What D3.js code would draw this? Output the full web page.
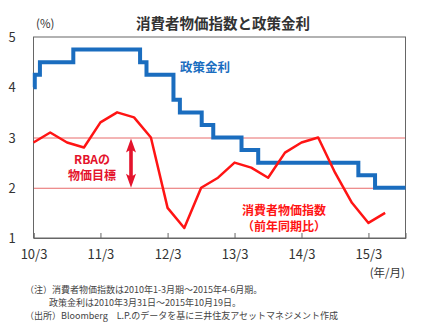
<!DOCTYPE html>
<html><head><meta charset="utf-8">
<script src="https://cdn.jsdelivr.net/npm/d3@7"></script>
<style>
html,body{margin:0;padding:0;background:#fff;}
svg{display:block;font-family:"Noto Sans CJK JP","Noto Sans",sans-serif;}
</style></head><body>
<svg id="c" width="425" height="329"></svg>
<script>
// ---- data ----
const cpiDates = ["2010-03-31","2010-06-30","2010-09-30","2010-12-31",
  "2011-03-31","2011-06-30","2011-09-30","2011-12-31",
  "2012-03-31","2012-06-30","2012-09-30","2012-12-31",
  "2013-03-31","2013-06-30","2013-09-30","2013-12-31",
  "2014-03-31","2014-06-30","2014-09-30","2014-12-31",
  "2015-03-31","2015-06-30"];
const cpiValues = [2.9,3.1,2.9,2.8, 3.3,3.5,3.4,3.0, 1.6,1.2,2.0,2.2, 2.5,2.4,2.2,2.7, 2.9,3.0,2.3,1.7, 1.3,1.5];
const rateDates = ["2010-03-31","2010-04-07","2010-05-05","2010-11-03","2011-11-02","2011-12-07",
  "2012-05-02","2012-06-06","2012-10-03","2012-12-05","2013-05-08","2013-08-07",
  "2015-02-04","2015-05-06","2015-10-19"];
const rateValues = [4.0,4.25,4.5,4.75,4.5,4.25,3.75,3.5,3.25,3.0,2.75,2.5,2.25,2.0,2.0];
const xTickDates = ["2010-03-31","2011-03-31","2012-03-31","2013-03-31","2014-03-31","2015-03-31"];
const xTickLabels = ["10/3","11/3","12/3","13/3","14/3","15/3"];
const yTicks = [1,2,3,4,5];
const targetBand = [2,3];

const parse = d3.utcParse("%Y-%m-%d");
const svg = d3.select("#c");
const x = d3.scaleUtc().domain([parse("2010-03-31"), parse("2015-10-19")]).range([33.5, 405.5]);
const y = d3.scaleLinear().domain([1,5]).range([238, 37]);

// title
svg.append("text").attr("x",223).attr("y",29).attr("text-anchor","middle")
  .attr("font-size",14.5).attr("font-weight","bold").attr("fill","#333").text("消費者物価指数と政策金利");
svg.append("text").attr("x",36).attr("y",28).attr("font-size",11.5).attr("fill","#333").text("(%)");

// target gridlines
svg.selectAll("line.tg").data(targetBand).join("line").attr("class","tg")
  .attr("x1",x.range()[0]).attr("x2",x.range()[1]).attr("y1",d=>y(d)+0.5).attr("y2",d=>y(d)+0.5)
  .attr("stroke","#e86a6a").attr("stroke-width",1);

// frame
svg.append("rect").attr("x",x.range()[0]).attr("y",y(5)).attr("width",x.range()[1]-x.range()[0])
  .attr("height",y(1)-y(5)).attr("fill","none").attr("stroke","#666").attr("stroke-width",1);

// y axis labels
svg.selectAll("text.yl").data(yTicks).join("text").attr("class","yl")
  .attr("x",12).attr("y",d=>y(d)+5).attr("text-anchor","middle").attr("font-size",13)
  .attr("fill","#333").text(d=>d);

// x axis
const xAxis = d3.axisBottom(x).tickValues(xTickDates.map(parse)).tickSize(-5).tickPadding(12)
  .tickFormat((d,i)=>xTickLabels[i]);
const gx = svg.append("g").attr("transform",`translate(0,${y(1)})`).call(xAxis);
gx.select(".domain").attr("stroke","#666");
gx.selectAll(".tick line").attr("stroke","#666");
gx.selectAll(".tick text").attr("font-size",13).attr("fill","#333").attr("font-family","'Noto Sans CJK JP',sans-serif");
svg.append("text").attr("x",405).attr("y",277).attr("text-anchor","end").attr("font-size",11.5)
  .attr("fill","#333").text("(年/月)");

// policy rate
const rate = rateDates.map((d,i)=>({d:parse(d),v:rateValues[i]}));
svg.append("path").datum(rate).attr("fill","none").attr("stroke","#1a6dbf").attr("stroke-width",4)
  .attr("d",d3.line().x(d=>x(d.d)).y(d=>y(d.v)).curve(d3.curveStepAfter));

// CPI
const cpi = cpiDates.map((d,i)=>({d:parse(d),v:cpiValues[i]}));
svg.append("path").datum(cpi).attr("fill","none").attr("stroke","#ff1414").attr("stroke-width",2.5)
  .attr("stroke-linejoin","round").attr("d",d3.line().x(d=>x(d.d)).y(d=>y(d.v)));

// double arrow
const ax = 131, a1 = y(3)+1, a2 = y(2);
svg.append("path").attr("fill","#e4132c")
  .attr("d",`M${ax},${a1} L${ax-5},${a1+14} L${ax-1.8},${a1+12} L${ax-1.8},${a2-12} L${ax-5},${a2-14} L${ax},${a2} L${ax+5},${a2-14} L${ax+1.8},${a2-12} L${ax+1.8},${a1+12} L${ax+5},${a1+14} Z`);

// labels
const lab = (tx,ty,t,col,anchor)=>svg.append("text").attr("x",tx).attr("y",ty)
  .attr("text-anchor",anchor).attr("font-size",12).attr("font-weight","bold").attr("fill",col).text(t);
lab(92,164,"RBAの","#e4132c","middle");
lab(92,179.5,"物価目標","#e4132c","middle");
svg.append("text").attr("x",180).attr("y",72).attr("font-size",12.5).attr("font-weight","bold")
  .attr("fill","#1a6dbf").text("政策金利");
lab(284,215,"消費者物価指数","#ff1414","middle");
lab(284,230.5,"（前年同期比）","#ff1414","middle");

// footnotes
const notes = [
  {x:25, y:293, t:"（注）消費者物価指数は2010年1-3月期～2015年4-6月期。"},
  {x:49, y:305.5, t:"政策金利は2010年3月31日～2015年10月19日。"},
  {x:25, y:318.5, t:"（出所）Bloomberg　L.P.のデータを基に三井住友アセットマネジメント作成"}
];
svg.selectAll("text.fn").data(notes).join("text").attr("class","fn")
  .attr("x",d=>d.x).attr("y",d=>d.y).attr("font-size",9).attr("fill","#444").text(d=>d.t);
</script>
</body></html>
